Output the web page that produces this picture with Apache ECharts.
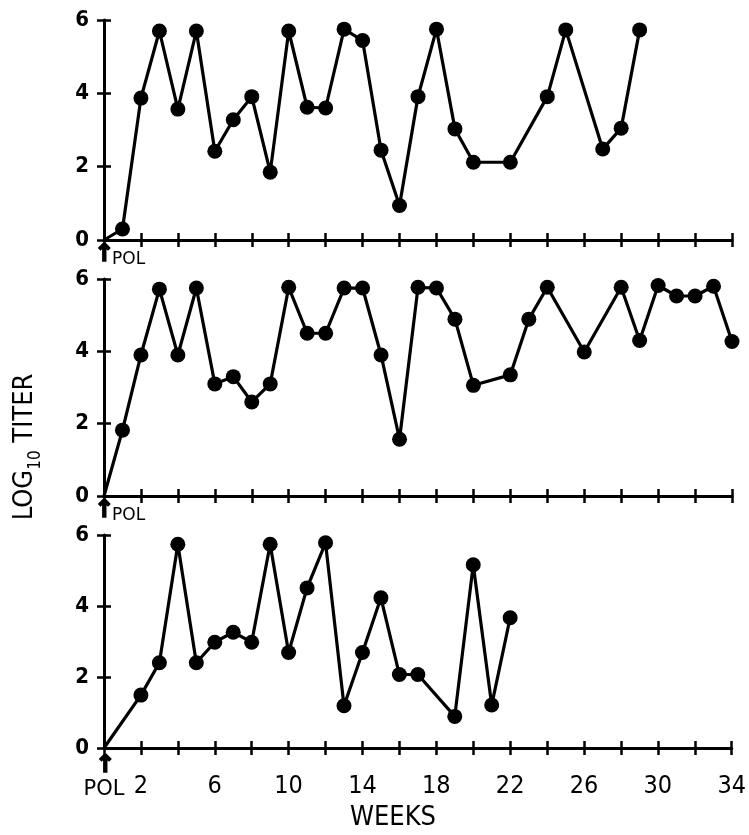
<!DOCTYPE html>
<html>
<head>
<meta charset="utf-8">
<script src="https://cdn.jsdelivr.net/npm/echarts@6/dist/echarts.min.js"></script>
<style>
html,body{margin:0;padding:0;background:#fff;}
#chart{width:749px;height:835px;}
</style>
</head>
<body>
<div id="chart"></div>
<script>
// ---- data (weeks after POL, log10 titer) ----
var weeksTop   = [0, 1, 2, 3, 4, 5, 6, 7, 8, 9, 10, 11, 12, 13, 14, 15, 16, 17, 18, 19, 20, 22, 24, 25, 27, 28, 29];
var titerTop   = [0, 0.3, 3.87, 5.7, 3.57, 5.7, 2.42, 3.28, 3.91, 1.85, 5.7, 3.62, 3.6, 5.75, 5.44, 2.45, 0.94, 3.91, 5.75, 3.03, 2.12, 2.12, 3.91, 5.73, 2.48, 3.05, 5.73];

var weeksMid   = [0, 1, 2, 3, 4, 5, 6, 7, 8, 9, 10, 11, 12, 13, 14, 15, 16, 17, 18, 19, 20, 22, 23, 24, 26, 28, 29, 30, 31, 32, 33, 34];
var titerMid   = [0, 1.82, 3.9, 5.72, 3.9, 5.75, 3.1, 3.3, 2.6, 3.1, 5.77, 4.5, 4.5, 5.75, 5.75, 3.9, 1.57, 5.77, 5.75, 4.89, 3.06, 3.35, 4.89, 5.77, 3.98, 5.77, 4.3, 5.82, 5.53, 5.53, 5.8, 4.27];

var weeksBot   = [0, 2, 3, 4, 5, 6, 7, 8, 9, 10, 11, 12, 13, 14, 15, 16, 17, 19, 20, 21, 22];
var titerBot   = [0, 1.49, 2.40, 5.74, 2.40, 2.98, 3.26, 2.98, 5.74, 2.69, 4.51, 5.78, 1.19, 2.69, 4.23, 2.07, 2.07, 0.89, 5.16, 1.21, 3.67];

var weekLabels = [2, 6, 10, 14, 18, 22, 26, 30, 34];
var yTicks     = [0, 2, 4, 6];
var polLabel   = 'POL';
var xTitle     = 'WEEKS';

// ---- build ----
var FONT = '"DejaVu Sans Condensed", "Liberation Sans Narrow", sans-serif';
var chart = echarts.init(document.getElementById('chart'), null, {renderer: 'canvas'});

var grids = [
  {left: 104, top: 20,  width: 628, height: 220},
  {left: 104, top: 279, width: 628, height: 217},
  {left: 104, top: 535, width: 628, height: 213}
];

function pairs(w, t) {
  return w.map(function (x, i) {
    var item = {value: [x, t[i]]};
    if (x === 0 && t[i] === 0) item.symbol = 'none';
    return item;
  });
}

var xAxes = [], yAxes = [];
grids.forEach(function (g, gi) {
  var isBottom = gi === 2;
  xAxes.push({
    gridIndex: gi, type: 'value', min: 0, max: 34, interval: 2, position: 'bottom',
    axisLine: {show: true, onZero: false, lineStyle: {color: '#000', width: 3}},
    axisTick: {show: true, inside: false, length: 7, lineStyle: {color: '#000', width: 2.5}},
    splitLine: {show: false},
    axisLabel: isBottom ? {
      show: true, margin: 26, color: '#000', fontFamily: FONT, align: 'center', verticalAlign: 'top',
      formatter: function (v) {
        if (v === 0) return '{p|' + polLabel + '}';
        if (weekLabels.indexOf(v) >= 0) return '{b|' + v + '}';
        return '';
      },
      rich: {
        p: {fontSize: 21, lineHeight: 24, color: '#000', fontFamily: 'DejaVu Sans', padding: [7, 0, 0, 0]},
        b: {fontSize: 25, lineHeight: 24, color: '#000', fontFamily: FONT}
      }
    } : {
      show: true, margin: 11, color: '#000', fontFamily: FONT, align: 'left', verticalAlign: 'top',
      formatter: function (v) {
        return v === 0 ? '{p|' + polLabel + '}' : '';
      },
      rich: {
        p: {fontSize: 17, lineHeight: 17, color: '#000', fontFamily: 'DejaVu Sans', padding: [0, 0, 0, 8]}
      }
    }
  });
  xAxes.push({
    gridIndex: gi, type: 'value', min: 0, max: 34, interval: 2, position: 'bottom',
    axisLine: {show: false},
    axisTick: {show: true, inside: true, length: 7, lineStyle: {color: '#000', width: 2.5}},
    splitLine: {show: false}, axisLabel: {show: false}
  });
  yAxes.push({
    gridIndex: gi, type: 'value', min: 0, max: 6, interval: 2, position: 'left',
    axisLine: {show: true, onZero: false, lineStyle: {color: '#000', width: 3}},
    axisTick: {show: true, inside: false, length: 7, lineStyle: {color: '#000', width: 2.5}},
    splitLine: {show: false},
    axisLabel: {
      show: true, margin: 15, color: '#000', fontSize: 22, fontWeight: 'bold', fontFamily: FONT,
      formatter: function (v) { return yTicks.indexOf(v) >= 0 ? String(v) : ''; }
    }
  });
  yAxes.push({
    gridIndex: gi, type: 'value', min: 0, max: 6, interval: 2, position: 'left',
    axisLine: {show: false},
    axisTick: {show: true, inside: true, length: 7, lineStyle: {color: '#000', width: 2.5}},
    splitLine: {show: false}, axisLabel: {show: false}
  });
});

function lineSeries(gi, w, t) {
  return {
    type: 'line', xAxisIndex: gi * 2, yAxisIndex: gi * 2, data: pairs(w, t),
    symbol: 'circle', symbolSize: 15, showAllSymbol: true, clip: false,
    lineStyle: {color: '#000', width: 3.2},
    itemStyle: {color: '#000', borderWidth: 0},
    animation: false
  };
}

function arrow(x, y) {
  return {
    type: 'text', x: x, y: y,
    style: {text: '↑', fill: '#000', stroke: '#000', lineWidth: 1.6, fontSize: 24, fontWeight: 'bold',
            fontFamily: 'DejaVu Sans', align: 'center', verticalAlign: 'middle'}
  };
}

chart.setOption({
  backgroundColor: '#fff',
  animation: false,
  grid: grids,
  xAxis: xAxes,
  yAxis: yAxes,
  series: [
    lineSeries(0, weeksTop, titerTop),
    lineSeries(1, weeksMid, titerMid),
    lineSeries(2, weeksBot, titerBot)
  ],
  graphic: [
    arrow(104, 255),
    arrow(104, 511),
    arrow(105, 766),
    {
      type: 'text', x: 21, y: 447, rotation: Math.PI / 2,
      style: {
        text: '{t|LOG}{s|10}{t| TITER}',
        align: 'center', verticalAlign: 'middle',
        rich: {
          t: {fontSize: 27, fontFamily: FONT, fill: '#000', lineHeight: 34, verticalAlign: 'bottom'},
          s: {fontSize: 17, fontFamily: FONT, fill: '#000', lineHeight: 34, verticalAlign: 'bottom', padding: [0, 0, -6, 0]}
        }
      }
    },
    {
      type: 'text', x: 393, y: 818,
      style: {
        text: xTitle, fill: '#000', fontSize: 27, fontFamily: FONT,
        align: 'center', verticalAlign: 'middle'
      }
    }
  ]
});
</script>
</body>
</html>
